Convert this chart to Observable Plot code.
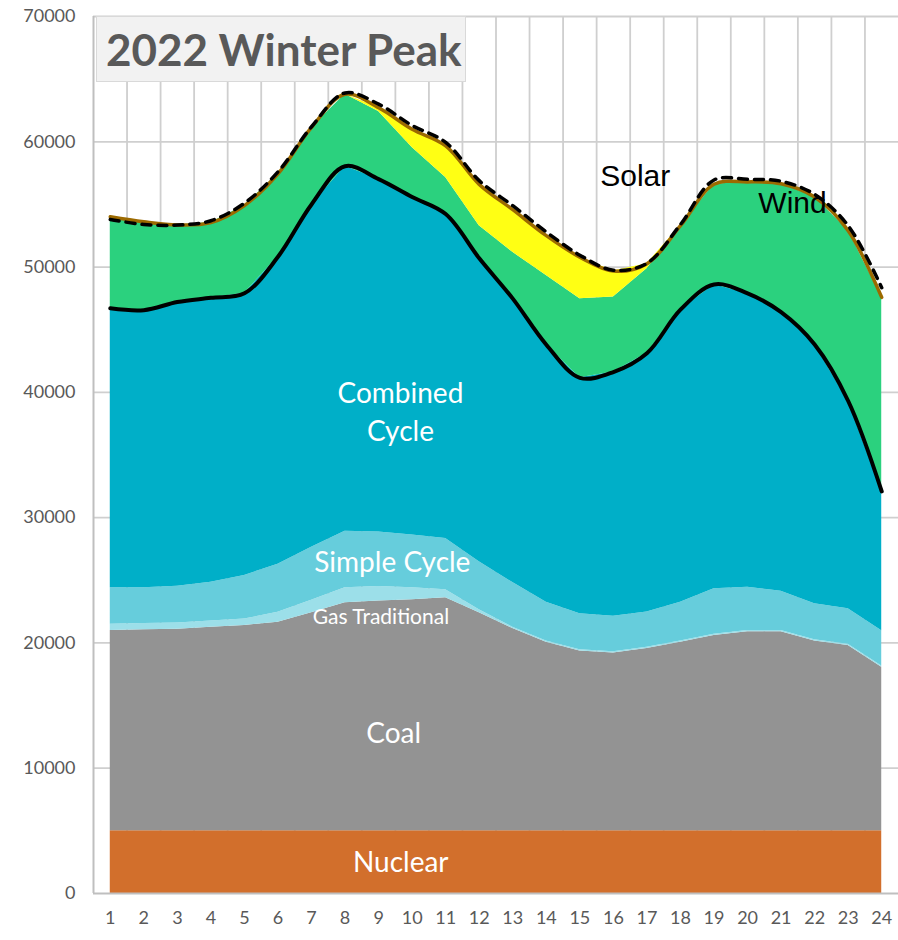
<!DOCTYPE html>
<html><head><meta charset="utf-8">
<script src="https://cdn.jsdelivr.net/npm/d3@7"></script>
<script src="https://cdn.jsdelivr.net/npm/@observablehq/plot@0.6"></script>
<style>
body{margin:0;background:#fff;}
#wrap{position:relative;width:898px;height:940px;}
#title{position:absolute;left:96px;top:16px;width:370px;height:66px;background:#f2f2f2;border:1px solid #d9d9d9;box-sizing:border-box;font-family:Lato,sans-serif;font-weight:700;font-size:44px;color:#595959;line-height:64px;padding-left:9px;white-space:nowrap;}
</style></head><body>
<div id="wrap"><div id="chart"></div><div id="title">2022 Winter Peak</div></div>
<script>
const hours = [1,2,3,4,5,6,7,8,9,10,11,12,13,14,15,16,17,18,19,20,21,22,23,24];
const nuclear = [5000,5000,5000,5000,5000,5000,5000,5000,5000,5000,5000,5000,5000,5000,5000,5000,5000,5000,5000,5000,5000,5000,5000,5000];
const coal = [16000,16050,16100,16250,16400,16650,17400,18200,18350,18450,18600,17400,16150,15050,14350,14200,14550,15050,15600,15900,15900,15150,14800,13050];
const gasTraditional = [500,500,500,500,500,800,1000,1200,1150,950,650,250,100,100,100,100,100,100,100,100,100,100,100,100];
const simpleCycle = [2900,2850,2930,3090,3490,3820,4240,4520,4350,4210,4090,3820,3570,3100,2880,2820,2820,3100,3620,3440,3120,2880,2830,2830];
const combinedCycle = [22310,22160,22680,22710,22520,24550,27360,29130,28170,26980,25890,24230,22660,20550,18830,19500,20650,23350,24290,23460,22280,20690,16580,11110];
const wind = [7300,7050,6150,6000,7000,6630,6150,5750,5400,3960,2910,2600,3700,5520,6310,5990,6740,6700,8000,8900,10250,11770,13600,15490];
const solar = [0,0,0,0,0,0,0,0,300,1450,2540,3300,3400,3190,3320,2070,410,0,0,0,0,0,0,0];
const load = [53800,53400,53350,53700,55100,57600,61200,63900,63000,61300,59950,56900,54900,52800,50950,49750,50300,53400,56950,57000,56850,55800,53300,48350];

const seriesNames = ["Nuclear","Coal","Gas Traditional","Simple Cycle","Combined Cycle","Wind","Solar"];
const seriesColors = ["#d26f2c","#939393","#9cdfe9","#66cddc","#00afc8","#2bd17e","#ffff14"];
const yTicks = [0,10000,20000,30000,40000,50000,60000,70000];
const xGrid = [1.5,2.5,3.5,4.5,5.5,6.5,7.5,8.5,9.5,10.5,11.5,12.5,13.5,14.5,15.5,16.5,17.5,18.5,19.5,20.5,21.5,22.5,23.5];

const seriesValues = [nuclear, coal, gasTraditional, simpleCycle, combinedCycle, wind, solar];
const rows = hours.flatMap((h, i) => seriesNames.map((s, k) => ({hour: h, series: s, value: seriesValues[k][i]})));
const ccTop = hours.map((h, i) => ({hour: h, value: nuclear[i] + coal[i] + gasTraditional[i] + simpleCycle[i] + combinedCycle[i]}));
const total = hours.map((h, i) => ({hour: h, value: seriesValues.reduce((a, arr) => a + arr[i], 0)}));
const loadRows = hours.map((h, i) => ({hour: h, value: load[i]}));

const chart = Plot.plot({
  width: 898, height: 940,
  marginLeft: 93, marginRight: 0, marginTop: 16, marginBottom: 47,
  style: {fontFamily: "Lato, sans-serif", color: "#595959", background: "white"},
  x: {domain: [0.5, 24.5], axis: null, label: null},
  y: {domain: [0, 70000], axis: null, label: null},
  color: {domain: seriesNames, range: seriesColors},
  marks: [
    Plot.ruleY(yTicks.slice(1), {stroke: "#cfcfcf", strokeWidth: 1.8}),
    Plot.ruleX(xGrid, {stroke: "#cfcfcf", strokeWidth: 1.8}),
    Plot.areaY(rows, {x: "hour", y: "value", fill: "series", order: seriesNames, curve: "linear"}),
    Plot.ruleX([0.5], {stroke: "#bfbfbf", strokeWidth: 2}),
    Plot.ruleY([0], {stroke: "#bfbfbf", strokeWidth: 2}),
    Plot.lineY(ccTop, {x: "hour", y: "value", stroke: "black", strokeWidth: 4, curve: "catmull-rom"}),
    Plot.lineY(total, {x: "hour", y: "value", stroke: "#9c6a00", strokeWidth: 3.5, curve: "catmull-rom"}),
    Plot.lineY(loadRows, {x: "hour", y: "value", stroke: "black", strokeWidth: 3.5, strokeDasharray: "9,7", curve: "catmull-rom"}),
    Plot.axisY({ticks: yTicks, label: null, tickSize: 0, tickPadding: 18, tickFormat: d3.format("d"), fontSize: 18, fill: "#595959"}),
    Plot.axisX({ticks: hours, label: null, tickSize: 0, tickPadding: 18, tickFormat: d3.format("d"), fontSize: 18, fill: "#595959"}),
    Plot.text(["Combined\nCycle"], {x: 9.65, y: 36080, text: d => d, fill: "white", fontSize: 28, lineAnchor: "bottom", lineHeight: 1.36}),
    Plot.text(["Simple Cycle"], {x: 9.41, y: 25650, text: d => d, fill: "white", fontSize: 28, lineAnchor: "bottom"}),
    Plot.text(["Gas Traditional"], {x: 9.07, y: 21550, text: d => d, fill: "white", fontSize: 21, lineAnchor: "bottom"}),
    Plot.text(["Coal"], {x: 9.45, y: 12000, text: d => d, fill: "white", fontSize: 28, lineAnchor: "bottom"}),
    Plot.text(["Nuclear"], {x: 9.66, y: 1680, text: d => d, fill: "white", fontSize: 28, lineAnchor: "bottom"}),
    Plot.text(["Solar"], {x: 16.65, y: 56510, text: d => d, fill: "black", fontSize: 30, fontFamily: "Liberation Sans, Arial, sans-serif", lineAnchor: "bottom"}),
    Plot.text(["Wind"], {x: 21.34, y: 54280, text: d => d, fill: "black", fontSize: 30, fontFamily: "Liberation Sans, Arial, sans-serif", lineAnchor: "bottom"})
  ]
});
document.getElementById("chart").appendChild(chart);
</script>
</body></html>
